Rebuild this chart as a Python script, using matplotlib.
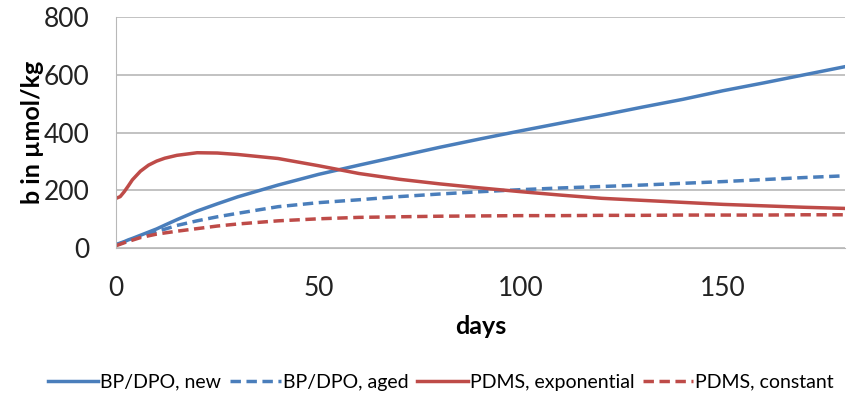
import matplotlib
matplotlib.use("Agg")
from matplotlib import pyplot as plt

plt.rcParams['font.family'] = ['Lato', 'DejaVu Sans']

# days on x axis
days = [0, 1, 2, 3, 4, 6, 8, 10, 12, 15, 20, 25, 30, 40, 50, 60, 70, 80, 90,
        100, 110, 120, 130, 140, 150, 160, 170, 180]

# b in umol/kg for each scenario
bp_new = [12, 17, 22, 28, 33, 44, 55, 66, 79, 98, 128, 153, 177, 218, 255,
          287, 318, 349, 378, 406, 433, 460, 488, 515, 545, 572, 600, 628]
bp_aged = [10, 15, 20, 25, 30, 40, 50, 58, 65, 78, 94, 108, 120, 143, 157,
           167, 178, 187, 195, 202, 208, 213, 218, 224, 230, 237, 244, 250]
pdms_exp = [172, 178, 195, 215, 236, 266, 287, 301, 311, 321, 330, 329, 324,
            310, 285, 258, 238, 222, 208, 195, 183, 172, 165, 158, 151, 146,
            141, 137]
pdms_const = [8, 13, 18, 23, 27, 36, 42, 48, 52, 58, 67, 76, 83, 94, 101,
              106, 108, 110, 111, 112, 112, 113, 113, 114, 114, 114, 115, 115]

labels = ["BP/DPO, new", "BP/DPO, aged", "PDMS, exponential", "PDMS, constant"]

blue = "#4a7ebb"
red = "#be4b48"

fig = plt.figure(figsize=(8.48, 3.98), dpi=100)
ax = fig.add_axes([0.137, 0.377, 0.859, 0.58])

ax.plot(days, bp_new, color=blue, lw=2.5, label=labels[0])
ax.plot(days, bp_aged, color=blue, lw=2.5, ls=(0, (3, 1.6)), label=labels[1])
ax.plot(days, pdms_exp, color=red, lw=2.5, label=labels[2])
ax.plot(days, pdms_const, color=red, lw=2.5, ls=(0, (3, 1.6)), label=labels[3])

ax.set_xlim(0, 180)
ax.set_ylim(0, 800)
ax.set_xticks([0, 50, 100, 150])
ax.set_yticks([0, 200, 400, 600, 800])
ax.yaxis.grid(True, color="#b8b8b8", lw=1.2)
ax.set_axisbelow(True)
for s in ["top", "right"]:
    ax.spines[s].set_visible(False)
ax.spines["left"].set_color("#b8b8b8")
ax.spines["bottom"].set_color("#b8b8b8")
ax.tick_params(length=0, labelsize=19, colors="#222222")
ax.tick_params(axis="x", pad=20)
ax.tick_params(axis="y", pad=19)

ax.set_xlabel("days", fontsize=18, fontweight="bold", labelpad=10)
ax.set_ylabel("b in \u00b5mol/kg", fontsize=18, fontweight="bold", labelpad=0)

fig.legend(loc="center", bbox_to_anchor=(0.52, 0.04), ncol=4, frameon=False,
           fontsize=14, handlelength=2.6, handletextpad=0.1, columnspacing=0.45)

fig.savefig("out.png", dpi=100)
